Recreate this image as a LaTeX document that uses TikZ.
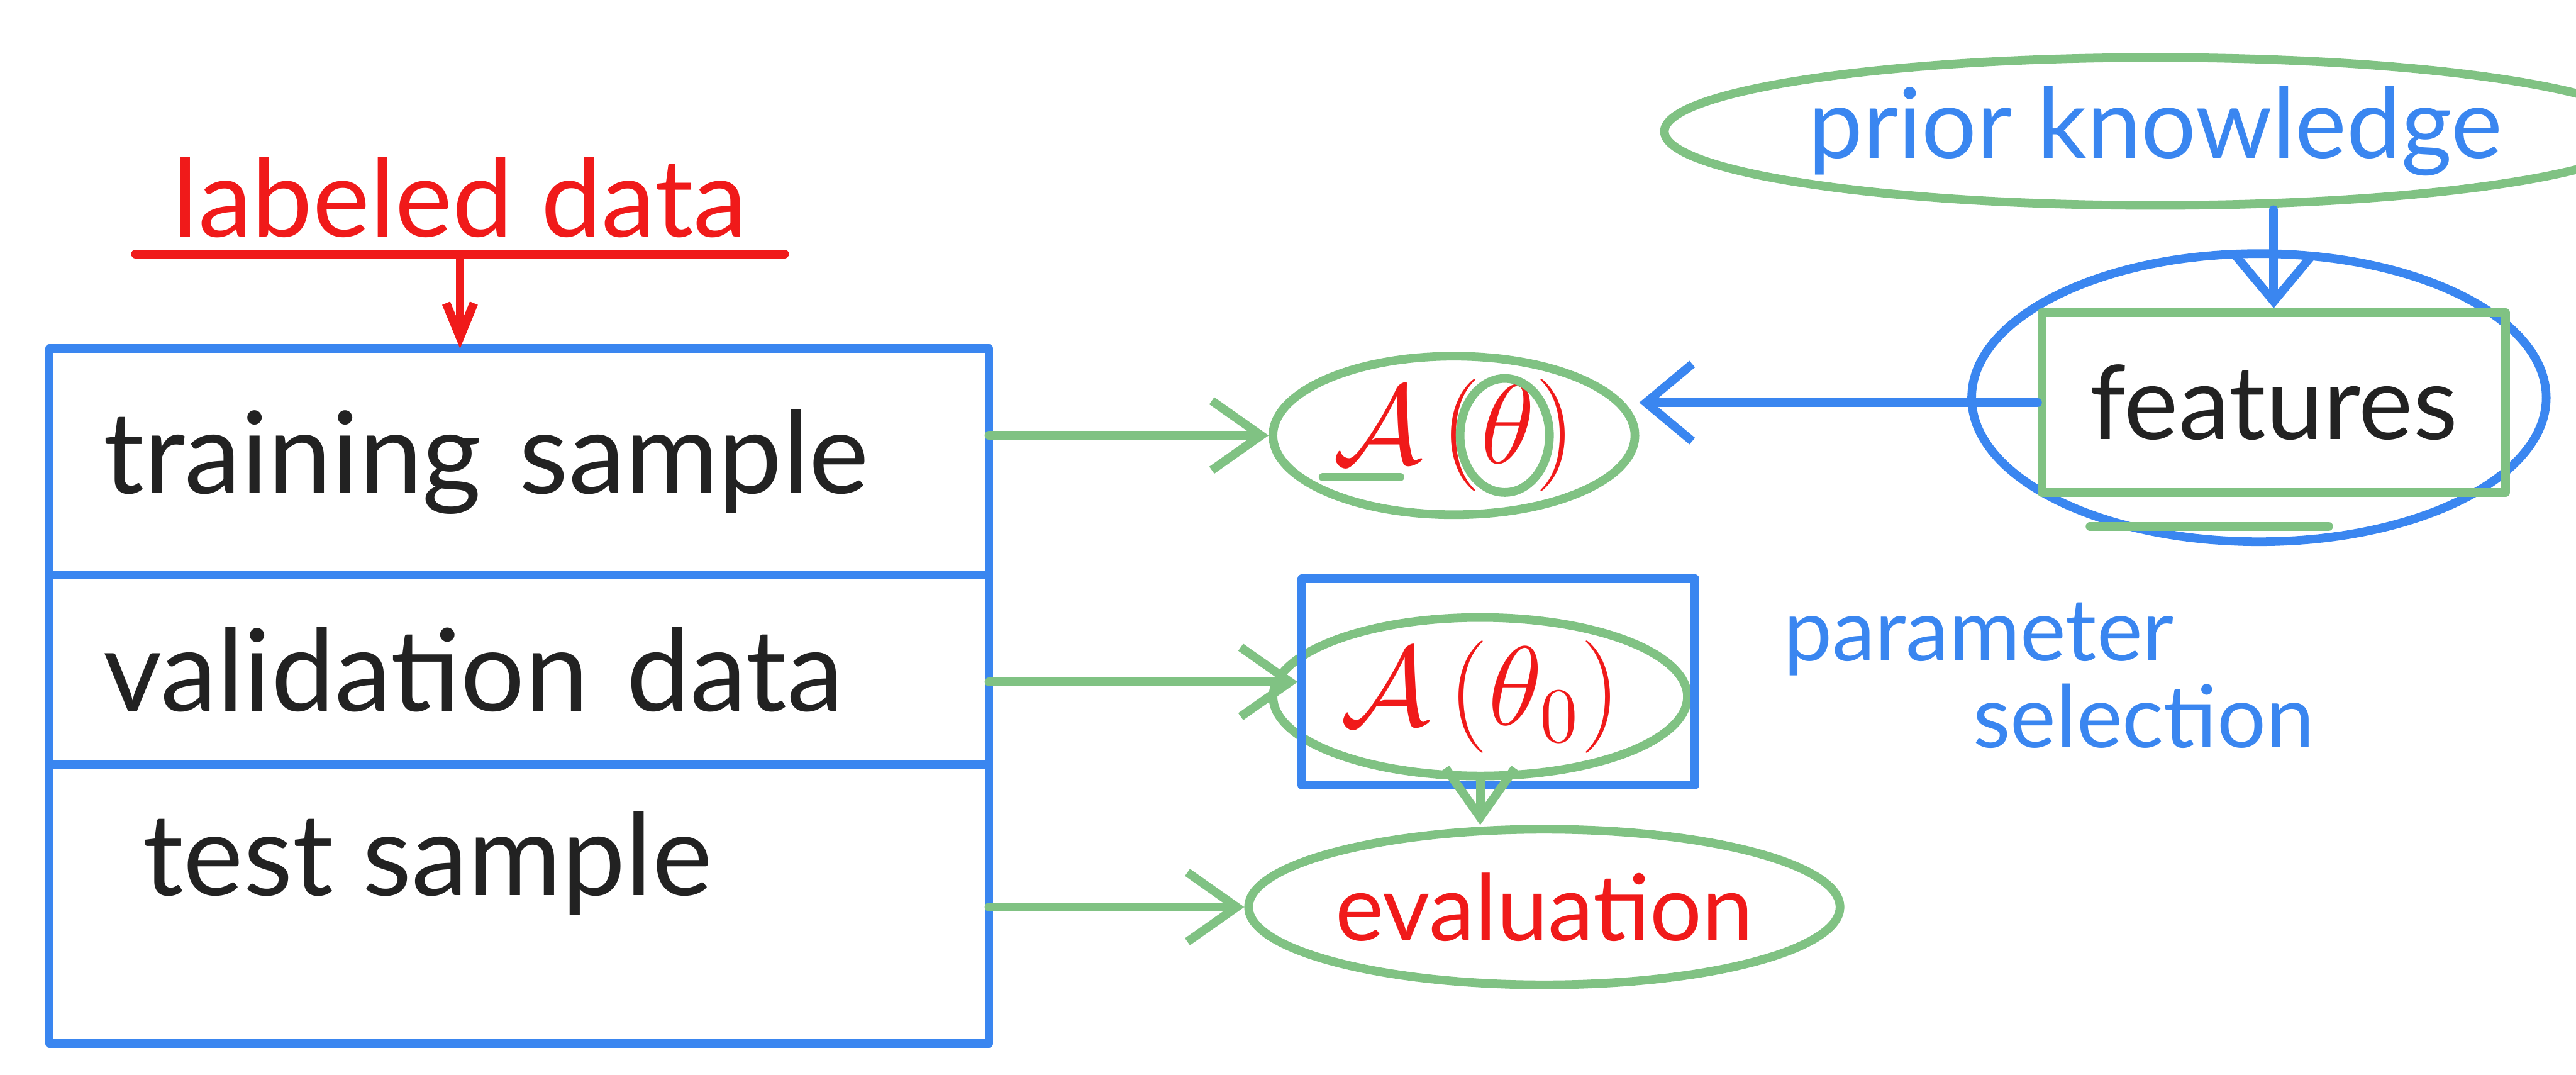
\documentclass[tikz,border=0pt]{standalone}
\usepackage{amsmath,amssymb}
\usepackage{fontspec}
\setmainfont{Lato}
\usepackage{xcolor}
\usepackage{tikz}
\usetikzlibrary{arrows.meta,positioning,shapes.geometric,calc}
\definecolor{penblue}{HTML}{3A86F0}
\definecolor{pengreen}{HTML}{80C283}
\definecolor{penred}{HTML}{F01A1A}
\definecolor{penblack}{HTML}{222222}

\begin{document}
\begin{tikzpicture}[
	x={(0.01067cm,0)},
	y={(0,-0.01067cm)},
	line cap=round,
	line join=round,
	ink/.style={line width=1.6pt},
	rowbox/.style={draw=penblue, ink, rectangle, outer sep=0pt, text width=5.4cm, inner xsep=0.35cm, inner ysep=0pt, align=left, text=penblack, font=\fontsize{21}{25}\selectfont},
	rowtext/.style={inner sep=0pt, text=penblack, font=\fontsize{21}{25}\selectfont},
	greenell/.style={draw=pengreen, ink, ellipse, inner sep=0pt},
	blueell/.style={draw=penblue, ink, ellipse, inner sep=0pt},
	greenbox/.style={draw=pengreen, ink, rectangle, inner sep=0pt},
	bluebox/.style={draw=penblue, ink, rectangle, inner sep=0pt},
	mathfont/.style={text=penred, font=\fontsize{20}{24}\selectfont},
	greenarrow/.style={draw=pengreen, ink, -{Straight Barb[length=0.32cm,width=0.45cm]}},
	bluearrow/.style={draw=penblue, ink, -{Straight Barb[length=0.3cm,width=0.5cm]}},
	redarrow/.style={draw=penred, ink, -{Straight Barb[length=0.22cm,width=0.18cm]}}
	]
	
	\useasboundingbox (0,0) rectangle (1568,654);
	
	%------------------------------
	% the split of the labeled data
	%------------------------------
	\node[rowbox, minimum height=1.47cm] (train) at (316,281) {training sample};
	\node[rowbox, minimum height=1.23cm, below=0pt of train] (valid) {validation data};
	\node[rowbox, minimum height=1.81cm, below=0pt of valid] (test) {};
	\node[rowtext, anchor=west] (testtext) at ([xshift=0.6cm,yshift=-0.64cm]test.north west) {test sample};
	
	\node[text=penred, font=\fontsize{20}{24}\selectfont, minimum width=4.2cm, inner ysep=0.1cm] (labeled) at (280,120) {labeled data};
	\draw[ink, penred] (labeled.south west) -- (labeled.south east);
	\draw[redarrow] (labeled.south) -- (labeled.south |- train.north);
	
	%------------------------------
	% algorithm, tuned algorithm, evaluation
	%------------------------------
	\node[greenell, mathfont, minimum width=2.35cm, minimum height=1.01cm] (atheta) at (885,265) {$\mathcal{A}\,(\theta)$};
	\draw[ink, pengreen] ([xshift=0.33cm]atheta.center) ellipse [x radius=0.29cm, y radius=0.37cm];
	\draw[ink, pengreen] ([xshift=-0.85cm,yshift=-0.27cm]atheta.center) -- ++(0.5cm,0);
	
	\node[greenell, mathfont, minimum width=2.69cm, minimum height=0.98cm] (atheta0) at (901,424) {$\mathcal{A}\,(\theta_0)$};
	\node[bluebox, minimum width=2.55cm, minimum height=1.34cm] (select) at (912,415) {};
	
	\node[greenell, text=penred, font=\fontsize{17}{21}\selectfont, minimum width=3.52cm, minimum height=1.01cm] (eval) at (940,552) {evaluation};
	
	%------------------------------
	% prior knowledge and features
	%------------------------------
	\node[greenell, text=penblue, font=\fontsize{18}{22}\selectfont, minimum width=5.28cm, minimum height=0.96cm] (prior) at (1312,80) {prior knowledge};
	\node[blueell, minimum width=3.73cm, minimum height=1.87cm] (featring) at (1375,242) {};
	\node[greenbox, text=penblack, font=\fontsize{19}{23}\selectfont, minimum width=3.01cm, minimum height=1.17cm] (feat) at (1384,245) {features};
	\draw[ink, pengreen] ([xshift=0.34cm,yshift=-0.19cm]feat.south west) -- ++(1.55cm,0);
	
	\node[text=penblue, font=\fontsize{16}{16}\selectfont, anchor=west, align=left, inner sep=0pt] (param) at (1085,411) {parameter\\\hspace*{1.23cm}selection};
	
	%------------------------------
	% connectors
	%------------------------------
	\draw[greenarrow] (train.east |- atheta.west) -- (atheta.west);
	\draw[greenarrow] (valid.east |- select.west) -- (select.west);
	\draw[greenarrow] (test.east |- eval.west) -- (eval.west);
	\draw[greenarrow] (atheta0.south) -- (atheta0.south |- eval.north);
	\draw[bluearrow] (prior.south -| feat.north) -- (feat.north);
	\draw[bluearrow] (feat.west) -- (feat.west -| atheta.east);
\end{tikzpicture}
\end{document}
